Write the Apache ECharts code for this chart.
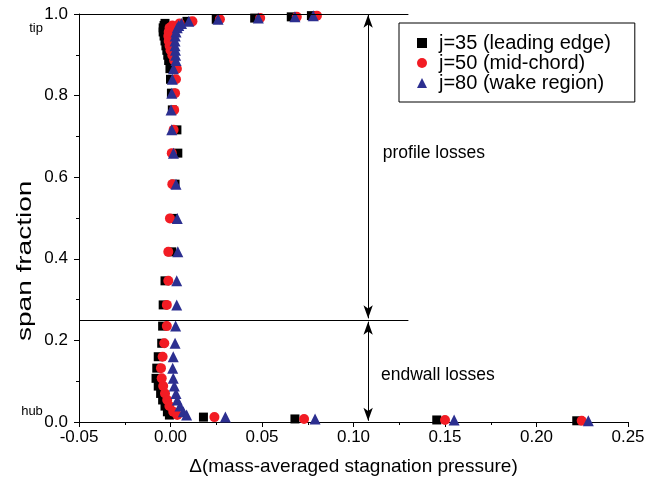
<!DOCTYPE html>
<html>
<head>
<meta charset="utf-8">
<script src="https://cdn.jsdelivr.net/npm/echarts@6/dist/echarts.min.js"></script>
<style>
  html, body { margin: 0; padding: 0; background: #fff; }
  #chart { width: 655px; height: 488px; }
</style>
</head>
<body>
<div id="chart"></div>
<script>
// Span positions (hub = 0, tip = 1), shared by the three chordwise stations
const spanFraction = [
  0.996, 0.993, 0.990, 0.987, 0.982, 0.977, 0.972, 0.966, 0.956, 0.946,
  0.934, 0.922, 0.911, 0.899, 0.886, 0.866, 0.840, 0.806, 0.765, 0.716,
  0.659, 0.583, 0.499, 0.417, 0.346, 0.287, 0.235, 0.193, 0.160, 0.132,
  0.107, 0.088, 0.070, 0.054, 0.039, 0.025, 0.017, 0.012, 0.0075, 0.005,
  0.003
];

// Change in mass-averaged stagnation pressure at each span position
const deltaJ35 = [
  0.077, 0.066, 0.046, 0.025, 0.009, -0.003, -0.0035, -0.004, -0.004, -0.0035,
  -0.003, -0.0025, -0.002, -0.0015, -0.001, -0.0003, 0.0, 0.0005, 0.001, 0.0035,
  0.004, 0.0025, 0.0015, 0.0007, -0.003, -0.004, -0.0043, -0.0048, -0.0067, -0.0075,
  -0.0079, -0.0067, -0.0054, -0.0043, -0.003, -0.0017, -0.0006, 0.018, 0.068, 0.1455,
  0.222
];
const deltaJ50 = [
  0.080, 0.069, 0.049, 0.027, 0.012, 0.005, 0.001, -0.0005, -0.001, -0.0012,
  -0.001, -0.0005, 0.0, 0.001, 0.002, 0.0035, 0.003, 0.0025, 0.002, 0.0017,
  0.0007, 0.001, -0.0003, -0.0012, -0.0012, -0.002, -0.002, -0.0034, -0.0043, -0.0052,
  -0.0048, -0.004, -0.003, -0.0018, -0.0006, 0.0015, 0.0037, 0.024, 0.073, 0.150,
  0.2247
];
const deltaJ80 = [
  0.078, 0.068, 0.048, 0.026, 0.010, 0.006, 0.0045, 0.0037, 0.003, 0.0026,
  0.0025, 0.0025, 0.0027, 0.0028, 0.003, 0.0016, 0.001, 0.0007, 0.0003, 0.0007,
  0.0016, 0.003, 0.0037, 0.004, 0.0034, 0.0034, 0.0028, 0.0025, 0.0015, 0.0012,
  0.0015, 0.0021, 0.003, 0.0037, 0.0052, 0.007, 0.0088, 0.030, 0.079, 0.155,
  0.2283
];

const seriesNames = ['j=35 (leading edge)', 'j=50 (mid-chord)', 'j=80 (wake region)'];

// Region markers: boundary between endwall and profile losses, arrow position
const regionBoundary = 0.25;
const regionLineEnd = 0.13;
const arrowX = 0.108;
const profileLabelAt = [0.116, 0.659];
const endwallLabelAt = [0.115, 0.115];
const spanTitleAt = 0.395;   // vertical centre of the span axis title

const FONT = 'Liberation Sans, Arial, sans-serif';

function pairs(xs) {
  return xs.map((x, i) => [x, spanFraction[i]]);
}

const chart = echarts.init(document.getElementById('chart'), null, { renderer: 'canvas' });

const axisCommon = {
  axisLine: { show: true, onZero: false, lineStyle: { color: '#000', width: 1 } },
  axisTick: { show: true, inside: false, length: 5, lineStyle: { color: '#000' } },
  minorTick: { show: true, splitNumber: 2, length: 3, lineStyle: { color: '#000' } },
  splitLine: { show: false },
  minorSplitLine: { show: false },
  axisLabel: { color: '#000', fontFamily: FONT, fontSize: 17 },
  nameTextStyle: { color: '#000', fontFamily: FONT, fontSize: 19 }
};

const option = {
  animation: false,
  backgroundColor: '#fff',
  grid: { left: 79, right: 27, top: 14, bottom: 66, containLabel: false },
  xAxis: Object.assign({}, axisCommon, {
    type: 'value',
    min: -0.05, max: 0.25, interval: 0.05,
    name: '\u0394(mass-averaged stagnation pressure)',
    nameLocation: 'middle',
    nameGap: 35,
    axisLabel: Object.assign({}, axisCommon.axisLabel, {
      margin: 7,
      formatter: v => v.toFixed(2)
    })
  }),
  yAxis: Object.assign({}, axisCommon, {
    type: 'value',
    min: 0, max: 1.0, interval: 0.2,
    axisLabel: Object.assign({}, axisCommon.axisLabel, {
      margin: 11,
      formatter: v => v.toFixed(1)
    })
  }),
  legend: {
    data: seriesNames,
    orient: 'vertical',
    left: 399,
    top: 23,
    padding: [10, 24, 9, 18],
    itemGap: 0,
    itemWidth: 10,
    itemHeight: 10,
    borderColor: '#000',
    borderWidth: 1,
    borderRadius: 0,
    selectedMode: false,
    textStyle: { color: '#000', fontFamily: FONT, fontSize: 20, lineHeight: 18.5, padding: [0, 0, 0, 7] }
  },
  series: [
    {
      name: seriesNames[0],
      type: 'scatter',
      symbol: 'rect',
      symbolSize: 9,
      itemStyle: { color: '#000000', opacity: 1 },
      data: pairs(deltaJ35),
      z: 2,
      markLine: {
        silent: true,
        symbol: ['none', 'none'],
        label: { show: false },
        emphasis: { disabled: true },
        lineStyle: { color: '#000', width: 1, type: 'solid', opacity: 1 },
        data: [
          [{ coord: [-0.05, 1.0] }, { coord: [regionLineEnd, 1.0] }],
          [{ coord: [-0.05, regionBoundary] }, { coord: [regionLineEnd, regionBoundary] }],
          [
            { coord: [arrowX, regionBoundary + 0.004], symbol: 'arrow', symbolSize: [7, 13] },
            { coord: [arrowX, 0.998], symbol: 'arrow', symbolSize: [7, 13] }
          ],
          [
            { coord: [arrowX, 0.003], symbol: 'arrow', symbolSize: [7, 13] },
            { coord: [arrowX, regionBoundary - 0.004], symbol: 'arrow', symbolSize: [7, 13] }
          ]
        ]
      }
    },
    {
      name: seriesNames[1],
      type: 'scatter',
      symbol: 'circle',
      symbolSize: 10,
      itemStyle: { color: '#f21c24', opacity: 1 },
      data: pairs(deltaJ50),
      z: 3
    },
    {
      name: seriesNames[2],
      type: 'scatter',
      symbol: 'triangle',
      symbolSize: 11,
      itemStyle: { color: '#2c2f90', opacity: 1 },
      data: pairs(deltaJ80),
      z: 4
    }
  ]
};

chart.setOption(option);

// Text annotations placed through the axis scales
const profilePx = chart.convertToPixel({ gridIndex: 0 }, profileLabelAt);
const endwallPx = chart.convertToPixel({ gridIndex: 0 }, endwallLabelAt);
const tipPx = chart.convertToPixel({ gridIndex: 0 }, [-0.05, 1.0]);
const hubPx = chart.convertToPixel({ gridIndex: 0 }, [-0.05, 0.0]);
const spanTitlePx = chart.convertToPixel({ gridIndex: 0 }, [-0.05, spanTitleAt]);

const textStyleBase = { fill: '#000', fontFamily: FONT };

chart.setOption({
  graphic: [
    // Span axis title, written bottom-to-top with a slightly wide face
    { type: 'text', x: spanTitlePx[0] - 54, y: spanTitlePx[1], rotation: Math.PI / 2,
      scaleX: 1.4, scaleY: 1, silent: true,
      style: Object.assign({ text: 'span fraction', fontSize: 20, align: 'center', verticalAlign: 'middle' }, textStyleBase) },
    { type: 'text', x: profilePx[0], y: profilePx[1], silent: true,
      style: Object.assign({ text: 'profile losses', fontSize: 17.5, align: 'left', verticalAlign: 'middle' }, textStyleBase) },
    { type: 'text', x: endwallPx[0], y: endwallPx[1], silent: true,
      style: Object.assign({ text: 'endwall losses', fontSize: 17.5, align: 'left', verticalAlign: 'middle' }, textStyleBase) },
    { type: 'text', x: tipPx[0] - 43, y: tipPx[1] + 14, silent: true,
      style: Object.assign({ text: 'tip', fontSize: 13, align: 'center', verticalAlign: 'middle' }, textStyleBase) },
    { type: 'text', x: hubPx[0] - 47, y: hubPx[1] - 11, silent: true,
      style: Object.assign({ text: 'hub', fontSize: 13, align: 'center', verticalAlign: 'middle' }, textStyleBase) }
  ]
});
</script>
</body>
</html>
